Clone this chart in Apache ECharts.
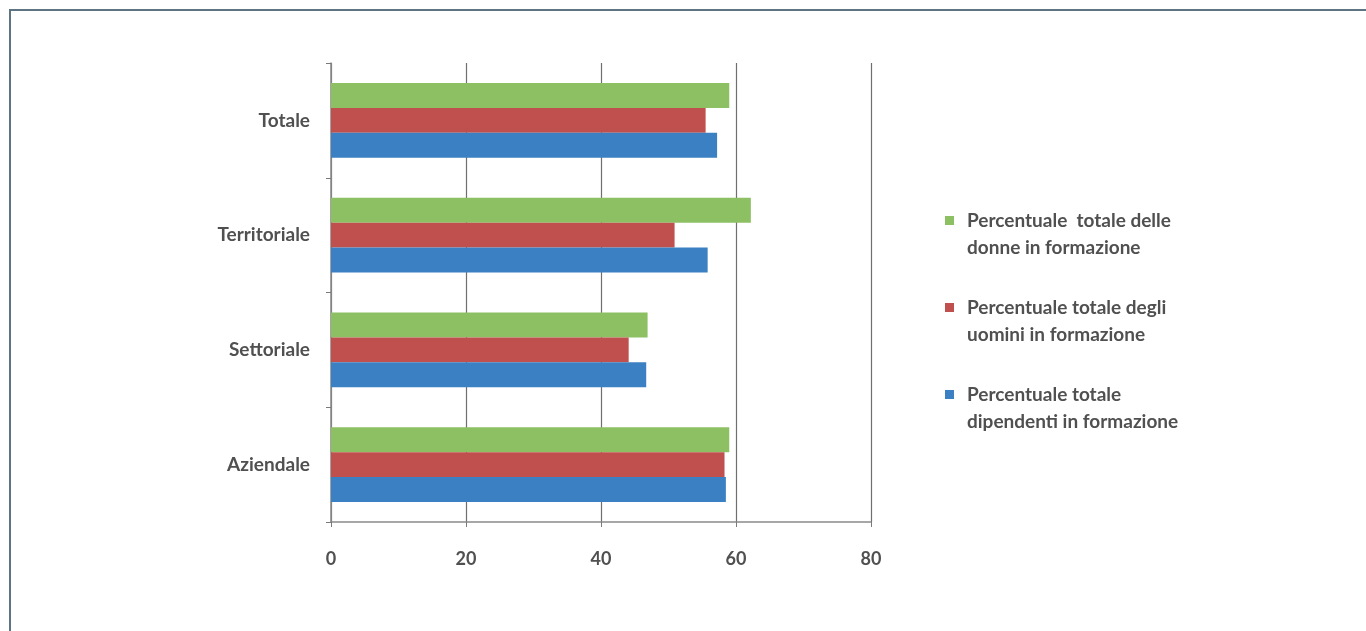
<!DOCTYPE html>
<html>
<head>
<meta charset="utf-8">
<script src="https://cdn.jsdelivr.net/npm/echarts@6/dist/echarts.min.js"></script>
<style>
  html, body { margin: 0; padding: 0; background: #fff; }
  #frame { position: absolute; left: 9px; top: 9px; width: 1400px; height: 700px;
           border-top: 2px solid #5f7482; border-left: 2px solid #5f7482; }
  #chart { position: absolute; left: 0; top: 0; width: 1366px; height: 631px; }
</style>
</head>
<body>
<div id="frame"></div>
<div id="chart"></div>
<script>
// categorie dal basso verso l'alto
const categorie = ['Aziendale', 'Settoriale', 'Territoriale', 'Totale'];
const valoriDipendenti = [58.5, 46.7, 55.8, 57.2];
const valoriUomini = [58.3, 44.1, 50.9, 55.5];
const valoriDonne = [59.0, 46.9, 62.2, 59.0];
const tickValori = [0, 20, 40, 60, 80];

const nomeDipendenti = 'Percentuale totale\ndipendenti in formazione';
const nomeUomini = 'Percentuale totale degli\nuomini in formazione';
const nomeDonne = 'Percentuale  totale delle\ndonne in formazione';

const font = 'Lato, "Open Sans", sans-serif';
const coloreTesto = '#505050';

const option = {
    animation: false,
    grid: {
        left: 331,
        right: 495,
        top: 63,
        bottom: 109
    },
    legend: {
        orient: 'vertical',
        left: 945,
        top: 180,
        padding: 0,
        data: [nomeDonne, nomeUomini, nomeDipendenti],
        icon: 'rect',
        itemWidth: 9,
        itemHeight: 9,
        itemGap: 6,
        // riga vuota in testa: così il quadratino sta sulla prima riga
        formatter: name => '\n' + name,
        textStyle: {
            fontFamily: font,
            fontSize: 19,
            fontWeight: 'bold',
            color: coloreTesto,
            lineHeight: 27,
            padding: [0, 0, 0, 8]
        }
    },
    xAxis: {
        type: 'value',
        min: tickValori[0],
        max: tickValori[tickValori.length - 1],
        interval: 20,
        axisLine: { show: true, lineStyle: { color: '#8a8a8a', width: 1.5 } },
        axisTick: { show: true, length: 5, lineStyle: { color: '#7a7a7a' } },
        splitLine: { show: true, lineStyle: { color: '#6f6f6f', width: 1.2 } },
        axisLabel: {
            margin: 28,
            fontFamily: font,
            fontSize: 18,
            fontWeight: 'bold',
            color: coloreTesto
        }
    },
    yAxis: {
        type: 'category',
        data: categorie,
        axisLine: { show: true, lineStyle: { color: '#8a8a8a', width: 1.5 } },
        axisTick: { show: true, length: 5, lineStyle: { color: '#7a7a7a' } },
        axisLabel: {
            margin: 21,
            fontFamily: font,
            fontSize: 19,
            fontWeight: 'bold',
            color: coloreTesto
        }
    },
    series: [
        {
            name: nomeDonne,
            type: 'bar',
            data: valoriDonne,
            barGap: '0%',
            barCategoryGap: '35%',
            itemStyle: { color: '#8dbf63' }
        },
        {
            name: nomeUomini,
            type: 'bar',
            data: valoriUomini,
            barGap: '0%',
            barCategoryGap: '35%',
            itemStyle: { color: '#c0504d' }
        },
        {
            name: nomeDipendenti,
            type: 'bar',
            data: valoriDipendenti,
            barGap: '0%',
            barCategoryGap: '35%',
            itemStyle: { color: '#3b80c2' }
        }
    ]
};

const chart = echarts.init(document.getElementById('chart'));
chart.setOption(option);
</script>
</body>
</html>
